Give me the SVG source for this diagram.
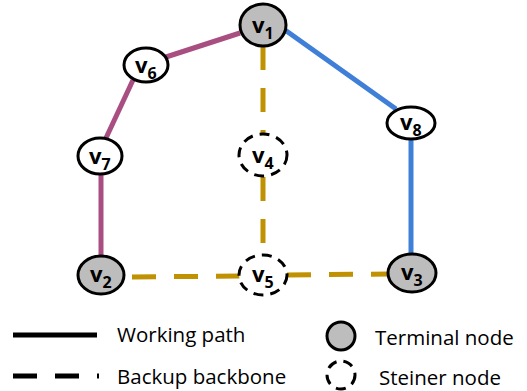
<svg xmlns="http://www.w3.org/2000/svg" width="527" height="391" viewBox="0 0 527 391">
<style>
.work{fill:none;stroke-width:5}
.mag{stroke:#a84e80}
.blue{stroke:#3f7fd8}
.gold{fill:none;stroke:#c09100;stroke-width:5;stroke-dasharray:24 18}
.term{fill:#bdbdbd;stroke:#000;stroke-width:3}
.plain{fill:#fff;stroke:#000;stroke-width:3}
.stein{fill:#fff;stroke:#000;stroke-width:3;stroke-dasharray:10 7}
.lbl{font-family:"Open Sans","Liberation Sans",sans-serif;font-size:22px;font-weight:bold;fill:#000}
.sub{font-size:16px}
.leg{font-family:"Open Sans","Liberation Sans",sans-serif;font-size:20.5px;fill:#000}
</style>
<g id="connectors">
<line class="work mag" x1="240" y1="33" x2="166" y2="57"/>
<line class="work mag" x1="133" y1="80" x2="106" y2="138"/>
<line class="work mag" x1="101" y1="174" x2="101" y2="255"/>
<line class="work blue" x1="285" y1="30" x2="396" y2="109"/>
<line class="work blue" x1="411" y1="139" x2="411" y2="254"/>
<line class="gold" x1="263" y1="46" x2="263" y2="133"/>
<line class="gold" x1="263" y1="177" x2="263" y2="254"/>
<line class="gold" x1="132" y1="277" x2="240" y2="276"/>
<line class="gold" x1="287" y1="275" x2="389" y2="274"/>
</g>
<g id="v1"><ellipse class="term" cx="263" cy="25" rx="23" ry="21"/><text class="lbl" x="252" y="33">v<tspan class="sub" dy="6">1</tspan></text></g>
<g id="v6"><ellipse class="plain" cx="146" cy="65" rx="22" ry="17"/><text class="lbl" x="135" y="73">v<tspan class="sub" dy="6">6</tspan></text></g>
<g id="v8"><ellipse class="plain" cx="411" cy="123" rx="24" ry="16"/><text class="lbl" x="400" y="130">v<tspan class="sub" dy="6">8</tspan></text></g>
<g id="v7"><ellipse class="plain" cx="100" cy="156" rx="22" ry="18"/><text class="lbl" x="89" y="164">v<tspan class="sub" dy="6">7</tspan></text></g>
<g id="v4"><ellipse class="stein" cx="263" cy="155" rx="24" ry="21"/><text class="lbl" x="252" y="163">v<tspan class="sub" dy="6">4</tspan></text></g>
<g id="v2"><ellipse class="term" cx="101" cy="275" rx="23" ry="19"/><text class="lbl" x="90" y="282">v<tspan class="sub" dy="6">2</tspan></text></g>
<g id="v5"><ellipse class="stein" cx="263" cy="275" rx="24" ry="20"/><text class="lbl" x="252" y="282">v<tspan class="sub" dy="6">5</tspan></text></g>
<g id="v3"><ellipse class="term" cx="412" cy="273" rx="24" ry="19"/><text class="lbl" x="401" y="280">v<tspan class="sub" dy="6">3</tspan></text></g>
<g id="legend">
<line x1="13" y1="335" x2="97" y2="335" stroke="#000" stroke-width="5"/>
<line x1="13" y1="376" x2="99" y2="376" stroke="#000" stroke-width="5" stroke-dasharray="24 18"/>
<text class="leg" x="117" y="342">Working path</text>
<text class="leg" x="117" y="384">Backup backbone</text>
<circle class="term" cx="341" cy="336" r="14"/>
<circle class="stein" cx="341" cy="375" r="14" stroke-dasharray="9 8"/>
<text class="leg" x="375" y="345">Terminal node</text>
<text class="leg" x="379" y="385">Steiner node</text>
</g>
</svg>
